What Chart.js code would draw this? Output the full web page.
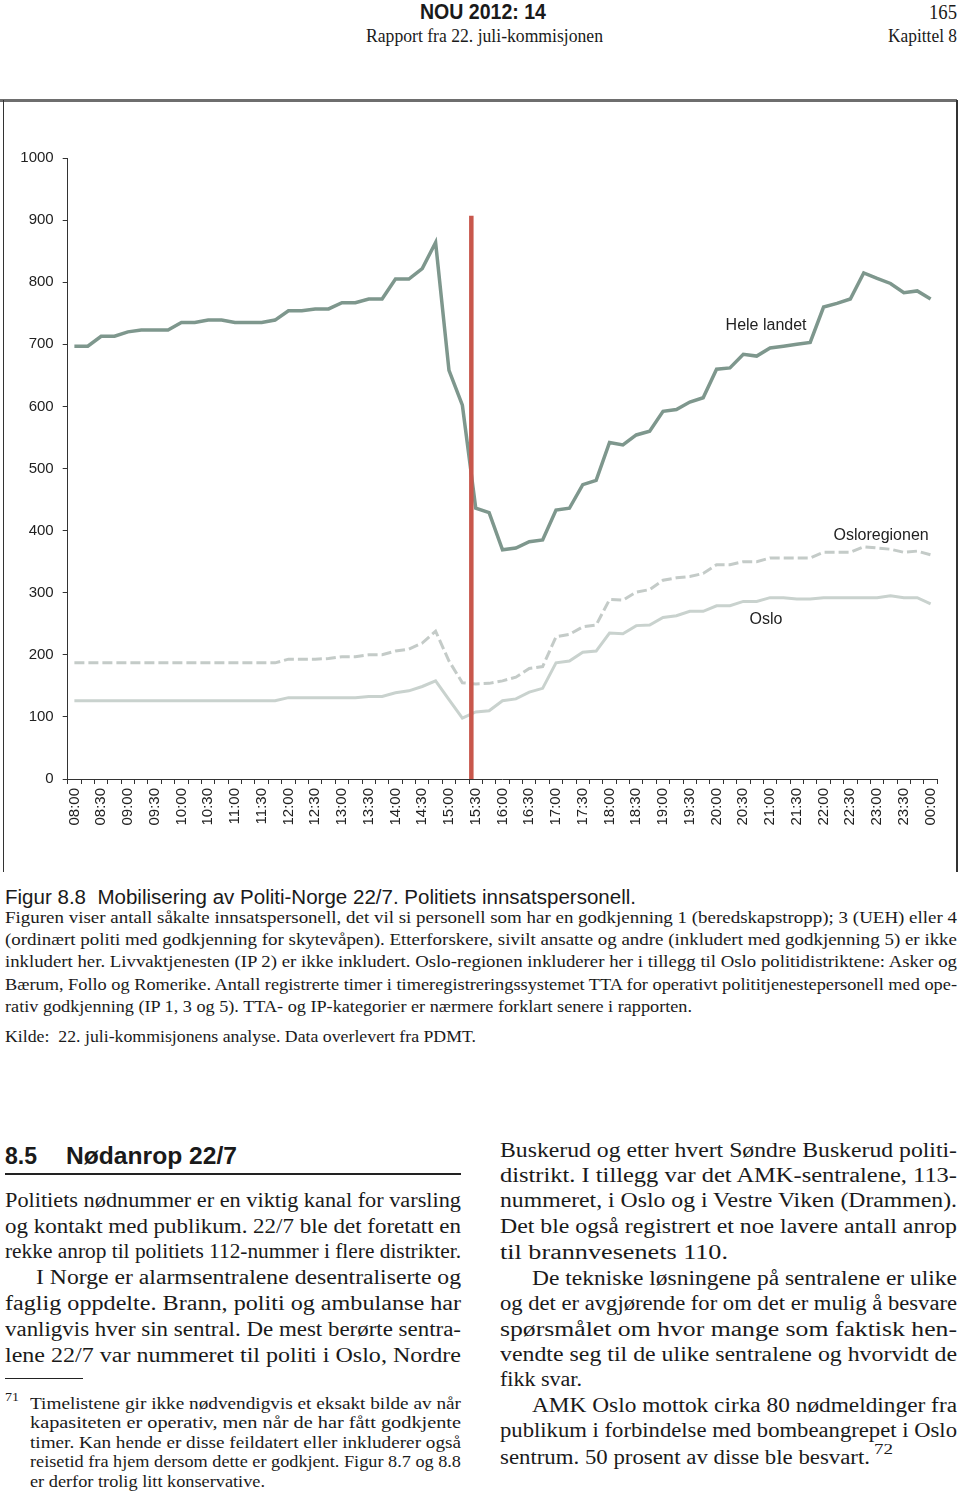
<!DOCTYPE html>
<html>
<head>
<meta charset="utf-8">
<script src="https://cdn.jsdelivr.net/npm/chart.js@4.4.1/dist/chart.umd.min.js"></script>
<style>
  html,body{margin:0;padding:0;background:#fff;}
  body{width:960px;height:1492px;position:relative;overflow:hidden;color:#1a1a1a;}
  .t{position:absolute;white-space:nowrap;transform-origin:0 50%;}
  .serif{font-family:"Liberation Serif","Times New Roman",serif;}
  .sans{font-family:"Liberation Sans",Arial,sans-serif;}
  .rule{position:absolute;background:#222;}
  #chartBox{position:absolute;left:0;top:140px;width:960px;height:700px;}
</style>
</head>
<body>
<!-- header -->
<div class="t sans" style="left:420px;top:12px;font-size:22px;font-weight:bold;" data-w="126">NOU 2012: 14</div>
<div class="t serif" style="left:366px;top:36px;font-size:19px;" data-w="237">Rapport fra 22. juli-kommisjonen</div>
<div class="t serif" style="left:929px;top:12px;font-size:20px;" data-w="28">165</div>
<div class="t serif" style="left:888px;top:36px;font-size:18px;" data-w="69">Kapittel 8</div>

<!-- frame -->
<div class="rule" style="left:0;top:99px;width:957px;height:2.5px;background:#6e6e6e;"></div>
<div class="rule" style="left:3px;top:100px;width:1.2px;height:772px;background:#333;"></div>
<div class="rule" style="left:956px;top:100px;width:1.5px;height:772px;background:#333;"></div>

<div id="chartBox"><canvas id="c" width="960" height="700"></canvas></div>

<!-- caption -->
<div class="t sans" style="left:5px;top:897px;font-size:20px;" data-w="631">Figur 8.8&nbsp;&nbsp;Mobilisering av Politi-Norge 22/7. Politiets innsatspersonell.</div>
<div class="t serif" style="left:5px;top:918px;font-size:17px;" data-w="952">Figuren viser antall såkalte innsatspersonell, det vil si personell som har en godkjenning 1 (beredskapstropp); 3 (UEH) eller 4</div>
<div class="t serif" style="left:5px;top:940px;font-size:17px;" data-w="952">(ordinært politi med godkjenning for skytevåpen). Etterforskere, sivilt ansatte og andre (inkludert med godkjenning 5) er ikke</div>
<div class="t serif" style="left:5px;top:962px;font-size:17px;" data-w="952">inkludert her. Livvaktjenesten (IP 2) er ikke inkludert. Oslo-regionen inkluderer her i tillegg til Oslo politidistriktene: Asker og</div>
<div class="t serif" style="left:5px;top:985px;font-size:17px;" data-w="952">Bærum, Follo og Romerike. Antall registrerte timer i timeregistreringssystemet TTA for operativt polititjenestepersonell med ope-</div>
<div class="t serif" style="left:5px;top:1007px;font-size:17px;" data-w="687">rativ godkjenning (IP 1, 3 og 5). TTA- og IP-kategorier er nærmere forklart senere i rapporten.</div>
<div class="t serif" style="left:5px;top:1037px;font-size:17px;" data-w="471">Kilde:&nbsp; 22. juli-kommisjonens analyse. Data overlevert fra PDMT.</div>

<!-- section heading -->
<div class="t sans" style="left:5px;top:1156px;font-size:23px;font-weight:bold;" data-w="32">8.5</div>
<div class="t sans" style="left:66px;top:1156px;font-size:23px;font-weight:bold;" data-w="171">Nødanrop 22/7</div>
<div class="rule" style="left:5px;top:1173px;width:456px;height:1.5px;"></div>

<!-- left column -->
<div class="t serif" style="left:5px;top:1200px;font-size:20px;" data-w="456">Politiets nødnummer er en viktig kanal for varsling</div>
<div class="t serif" style="left:5px;top:1226px;font-size:20px;" data-w="456">og kontakt med publikum. 22/7 ble det foretatt en</div>
<div class="t serif" style="left:5px;top:1251px;font-size:20px;" data-w="456">rekke anrop til politiets 112-nummer i flere distrikter.</div>
<div class="t serif" style="left:36px;top:1277px;font-size:20px;" data-w="425">I Norge er alarmsentralene desentraliserte og</div>
<div class="t serif" style="left:5px;top:1303px;font-size:20px;" data-w="456">faglig oppdelte. Brann, politi og ambulanse har</div>
<div class="t serif" style="left:5px;top:1329px;font-size:20px;" data-w="456">vanligvis hver sin sentral. De mest berørte sentra-</div>
<div class="t serif" style="left:5px;top:1355px;font-size:20px;" data-w="456">lene 22/7 var nummeret til politi i Oslo, Nordre</div>

<!-- footnote -->
<div class="rule" style="left:5px;top:1378px;width:78px;height:1.2px;"></div>
<div class="t serif" style="left:5px;top:1397px;font-size:12px;" data-w="14">71</div>
<div class="t serif" style="left:30px;top:1404px;font-size:16px;" data-w="431">Timelistene gir ikke nødvendigvis et eksakt bilde av når</div>
<div class="t serif" style="left:30px;top:1423px;font-size:16px;" data-w="431">kapasiteten er operativ, men når de har fått godkjente</div>
<div class="t serif" style="left:30px;top:1443px;font-size:16px;" data-w="431">timer. Kan hende er disse feildatert eller inkluderer også</div>
<div class="t serif" style="left:30px;top:1462px;font-size:16px;" data-w="431">reisetid fra hjem dersom dette er godkjent. Figur 8.7 og 8.8</div>
<div class="t serif" style="left:30px;top:1482px;font-size:16px;" data-w="235">er derfor trolig litt konservative.</div>

<!-- right column -->
<div class="t serif" style="left:500px;top:1150px;font-size:20px;" data-w="457">Buskerud og etter hvert Søndre Buskerud politi-</div>
<div class="t serif" style="left:500px;top:1175px;font-size:20px;" data-w="457">distrikt. I tillegg var det AMK-sentralene, 113-</div>
<div class="t serif" style="left:500px;top:1200px;font-size:20px;" data-w="457">nummeret, i Oslo og i Vestre Viken (Drammen).</div>
<div class="t serif" style="left:500px;top:1226px;font-size:20px;" data-w="457">Det ble også registrert et noe lavere antall anrop</div>
<div class="t serif" style="left:500px;top:1252px;font-size:20px;" data-w="228">til brannvesenets 110.</div>
<div class="t serif" style="left:532px;top:1278px;font-size:20px;" data-w="425">De tekniske løsningene på sentralene er ulike</div>
<div class="t serif" style="left:500px;top:1303px;font-size:20px;" data-w="457">og det er avgjørende for om det er mulig å besvare</div>
<div class="t serif" style="left:500px;top:1329px;font-size:20px;" data-w="457">spørsmålet om hvor mange som faktisk hen-</div>
<div class="t serif" style="left:500px;top:1354px;font-size:20px;" data-w="457">vendte seg til de ulike sentralene og hvorvidt de</div>
<div class="t serif" style="left:500px;top:1379px;font-size:20px;" data-w="82">fikk svar.</div>
<div class="t serif" style="left:532px;top:1405px;font-size:20px;" data-w="425">AMK Oslo mottok cirka 80 nødmeldinger fra</div>
<div class="t serif" style="left:500px;top:1430px;font-size:20px;" data-w="457">publikum i forbindelse med bombeangrepet i Oslo</div>
<div class="t serif" style="left:500px;top:1457px;font-size:20px;" data-w="370">sentrum. 50 prosent av disse ble besvart.</div>
<div class="t serif" style="left:874px;top:1449px;font-size:15px;" data-w="19">72</div>

<script>
// ---- data ----
const times = ["08:00","08:15","08:30","08:45","09:00","09:15","09:30","09:45",
  "10:00","10:15","10:30","10:45","11:00","11:15","11:30","11:45",
  "12:00","12:15","12:30","12:45","13:00","13:15","13:30","13:45",
  "14:00","14:15","14:30","14:45","15:00","15:15","15:30","15:45",
  "16:00","16:15","16:30","16:45","17:00","17:15","17:30","17:45",
  "18:00","18:15","18:30","18:45","19:00","19:15","19:30","19:45",
  "20:00","20:15","20:30","20:45","21:00","21:15","21:30","21:45",
  "22:00","22:15","22:30","22:45","23:00","23:15","23:30","23:45","00:00"];
const tickLabels = ["08:00","08:30","09:00","09:30","10:00","10:30","11:00","11:30",
  "12:00","12:30","13:00","13:30","14:00","14:30","15:00","15:30","16:00","16:30",
  "17:00","17:30","18:00","18:30","19:00","19:30","20:00","20:30","21:00","21:30",
  "22:00","22:30","23:00","23:30","00:00"];
const yTicks = [0,100,200,300,400,500,600,700,800,900,1000];
const heleLandet = [697,697,713,713,720,723,723,723,735,735,739,739,735,735,735,739,
  754,754,757,757,767,767,773,773,805,805,822,864,658,602,436,429,
  369,372,382,385,433,436,474,481,542,538,554,560,592,595,607,614,
  660,662,684,681,694,697,700,703,760,766,773,815,806,798,783,786,773];
const osloregionen = [187,187,187,187,187,187,187,187,187,187,187,187,187,187,187,187,
  193,193,193,194,197,197,200,200,206,209,219,238,190,155,153,154,
  158,164,178,181,229,233,245,248,289,288,301,305,320,324,326,331,
  345,345,350,350,356,356,356,356,365,365,365,374,372,370,365,367,361];
const oslo = [126,126,126,126,126,126,126,126,126,126,126,126,126,126,126,126,
  131,131,131,131,131,131,133,133,139,142,149,158,128,98,108,110,
  126,129,140,146,187,190,204,206,235,234,247,248,260,263,270,270,
  279,279,286,286,292,292,290,290,292,292,292,292,292,295,292,292,282];
// event marker (15:25) as position on the time index axis, and its top value
const eventIndex = 29.67;
const eventTop = 907;
const seriesNames = ["Hele landet","Osloregionen","Oslo"];
// label anchors (time index, value)
const noteAnchors = [[51.7,730],[60.3,392],[51.7,256]];

// ---- text fitting ----
document.querySelectorAll('[data-w]').forEach(el=>{
  const target = parseFloat(el.dataset.w);
  const r = el.getBoundingClientRect();
  el.style.marginTop = (-r.height/2)+'px';
  el.style.transform = 'scaleX(' + (target / r.width) + ')';
});

// ---- chart ----
Chart.defaults.font.family = '"Liberation Sans", Arial, sans-serif';
Chart.defaults.color = '#222';

const notesPlugin = {
  id:'notes',
  afterDatasetsDraw(chart){
    const ctx = chart.ctx, x = chart.scales.x2, y = chart.scales.y;
    ctx.save();
    ctx.font = '16px "Liberation Sans", Arial, sans-serif';
    ctx.fillStyle = '#222';
    ctx.textAlign = 'center';
    ctx.textBaseline = 'middle';
    noteAnchors.forEach((a,i)=>{
      ctx.fillText(seriesNames[i], x.getPixelForValue(a[0]), y.getPixelForValue(a[1]));
    });
    ctx.restore();
  }
};

new Chart(document.getElementById('c'), {
  type:'line',
  data:{
    labels: times,
    datasets:[
      {label:seriesNames[2], data:oslo, borderColor:'#c9d2ce', borderWidth:3, pointRadius:0, tension:0, order:3},
      {label:seriesNames[1], data:osloregionen, borderColor:'#c4cbc8', borderWidth:3, borderDash:[10,4], pointRadius:0, tension:0, order:2},
      {label:seriesNames[0], data:heleLandet, borderColor:'#7e978d', borderWidth:3.5, pointRadius:0, tension:0, order:1},
      {label:'event', data:[{x:eventIndex,y:0},{x:eventIndex,y:eventTop}], xAxisID:'x2',
        borderColor:'#c8574c', borderWidth:4.5, pointRadius:0, tension:0, order:0, borderCapStyle:'butt'}
    ]
  },
  options:{
    responsive:false,
    animation:false,
    devicePixelRatio:1,
    layout:{padding:{left:0,right:22.7,top:13,bottom:0}},
    plugins:{legend:{display:false}, tooltip:{enabled:false}},
    scales:{
      x:{
        type:'category',
        offset:true,
        grid:{display:true, offset:true, drawOnChartArea:false, drawTicks:true, tickLength:5, color:'#333', lineWidth:1},
        border:{display:true, color:'#333', width:1},
        ticks:{autoSkip:false, minRotation:90, maxRotation:90, padding:4, font:{size:15}, color:'#222',
          callback:(v,i)=> tickLabels.includes(times[i]) && i%2===0 ? times[i] : ''},
        afterFit:(s)=>{ s.height = 61; }
      },
      x2:{
        type:'linear', display:false, min:-0.5, max:times.length-0.5
      },
      y:{
        min:0, max:1000,
        afterBuildTicks:(s)=>{ s.ticks = yTicks.map(v=>({value:v})); },
        grid:{display:true, drawOnChartArea:false, drawTicks:true, tickLength:5, color:'#333'},
        border:{display:true, color:'#333', width:1},
        ticks:{padding:9, font:{size:15}, color:'#222', callback:(v)=>String(v)},
        afterFit:(s)=>{ s.width = 67.7; }
      }
    }
  },
  plugins:[notesPlugin]
});
</script>
</body>
</html>
